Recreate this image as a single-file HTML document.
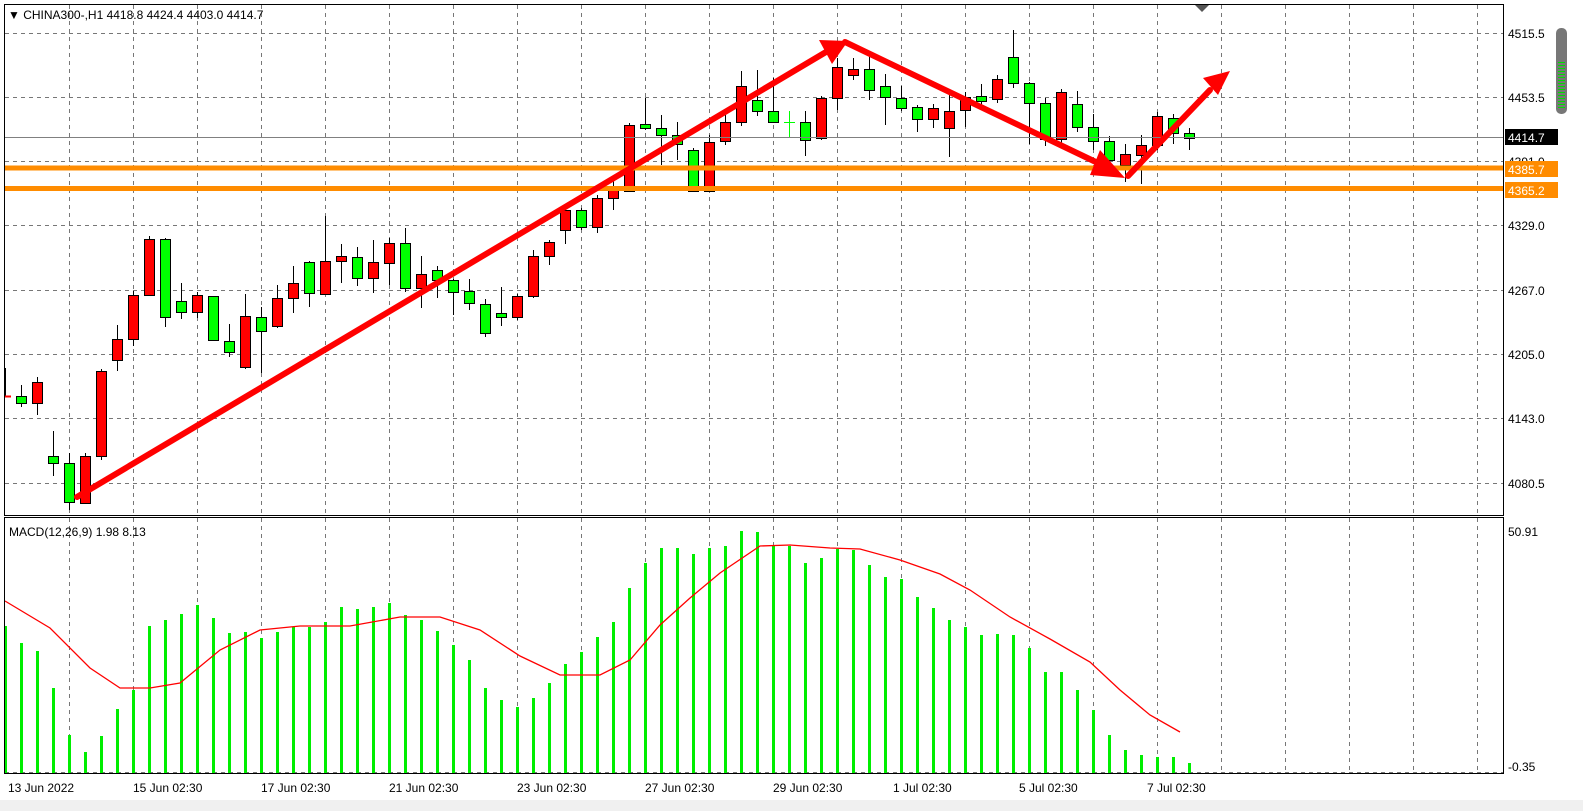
<!DOCTYPE html>
<html><head><meta charset="utf-8"><style>
html,body{margin:0;padding:0;background:#fff;width:1583px;height:811px;overflow:hidden;}
svg{display:block;font-family:"Liberation Sans",sans-serif;width:1583px;height:811px;}
</style></head><body>
<svg width="1583" height="811" viewBox="0 0 1583 811" xmlns="http://www.w3.org/2000/svg">
<rect width="1583" height="811" fill="#fff"/>
<g stroke="#777" stroke-width="1" stroke-dasharray="4,4" id="grid"></g>
<g id="candles"></g>
<g id="macd"></g>
<line x1="5" y1="137.5" x2="1503" y2="137.5" stroke="#808080" stroke-width="1"/>
<rect x="5" y="165.5" width="1498" height="5" fill="#ff8c00"/>
<rect x="5" y="186" width="1498" height="5" fill="#ff8c00"/>
<g stroke="#ff0000" stroke-width="6" stroke-linecap="round" fill="none">
<polyline points="77,497 826,52"/>
<polyline points="845,42 1100,164"/>
<polyline points="1128,176 1210,90"/>
</g>
<g fill="#ff0000">
<polygon points="848,41 819,40 832,64"/>
<polygon points="1125,178 1100,150 1090,175"/>
<polygon points="1230,71 1203,78 1218,95"/>
</g>
<g fill="none" stroke="#000" stroke-width="1">
<rect x="4.5" y="4.5" width="1499" height="511"/>
<rect x="4.5" y="517.5" width="1499" height="256"/>
</g>
<polygon points="1195,5 1209,5 1202,12" fill="#555"/>
<rect x="1556" y="28" width="11" height="86" rx="5" fill="#777"/>
<g stroke="#00dd00" stroke-width="1" id="sb"></g>
<g font-size="12" fill="#000">
<text x="8" y="19">▼ CHINA300-,H1  4418.8 4424.4 4403.0 4414.7</text>
<text x="9" y="536">MACD(12,26,9) 1.98 8.13</text>
<text x="1508" y="38">4515.5</text>
<text x="1508" y="102">4453.5</text>
<text x="1508" y="166">4391.0</text>
<text x="1508" y="230">4329.0</text>
<text x="1508" y="295">4267.0</text>
<text x="1508" y="359">4205.0</text>
<text x="1508" y="423">4143.0</text>
<text x="1508" y="488">4080.5</text>
<text x="1508" y="536">50.91</text>
<text x="1508" y="771">-0.35</text>
</g>
<rect x="1505" y="129" width="53" height="16" fill="#000"/>
<text x="1508" y="142" font-size="12" fill="#fff">4414.7</text>
<rect x="1505" y="161" width="53" height="16" fill="#ff8c00"/>
<text x="1508" y="174" font-size="12" fill="#fff">4385.7</text>
<rect x="1505" y="182" width="53" height="16" fill="#ff8c00"/>
<text x="1508" y="195" font-size="12" fill="#fff">4365.2</text>
<g font-size="12" fill="#000">
<text x="8" y="792">13 Jun 2022</text>
<text x="133" y="792">15 Jun 02:30</text>
<text x="261" y="792">17 Jun 02:30</text>
<text x="389" y="792">21 Jun 02:30</text>
<text x="517" y="792">23 Jun 02:30</text>
<text x="645" y="792">27 Jun 02:30</text>
<text x="773" y="792">29 Jun 02:30</text>
<text x="893" y="792">1 Jul 02:30</text>
<text x="1019" y="792">5 Jul 02:30</text>
<text x="1147" y="792">7 Jul 02:30</text>
</g>
<rect x="0" y="800" width="1583" height="11" fill="#f0f0f0"/>
<script>
(function(){
var NS="http://www.w3.org/2000/svg";
function el(p,t,a){var e=document.createElementNS(NS,t);for(var k in a)e.setAttribute(k,a[k]);p.appendChild(e);return e;}
var g=document.getElementById('grid');
for(var x=69;x<1503;x+=64){el(g,'line',{x1:x+.5,y1:5,x2:x+.5,y2:515});el(g,'line',{x1:x+.5,y1:518,x2:x+.5,y2:773});}
[33,97,161,225,290,354,418,483].forEach(function(y){el(g,'line',{x1:5,y1:y+.5,x2:1503,y2:y+.5});});
el(g,'line',{x1:5,y1:772.5,x2:1503,y2:772.5});
var R='#ff0000',G='#00ff00';
var c=[[21,396,403,385,407,G],[37,382,403,377,415,R],[53,456,463,431,476,G],[69,463,502,453,510,G],[85,456,503,453,503,R],[101,371,456,369,460,R],
[117,339,360,325,371,R],[133,295,339,291,346,R],[149,239,295,236,295,R],[165,239,317,238,327,G],[181,301,312,283,319,G],[197,295,312,292,318,R],[213,296,340,296,340,G],[229,341,352,324,357,G],[245,316,367,294,369,R],[261,317,331,307,373,G],[277,298,326,285,328,R],[293,283,298,266,313,R],[309,262,293,261,307,G],[325,261,294,216,295,R],[341,256,261,244,283,R],[357,257,278,247,286,G],[373,262,278,240,293,R],[389,243,263,238,285,R],[405,243,288,228,292,G],[421,274,288,256,308,R],[437,270,280,266,298,G],[453,280,292,279,315,G],[469,291,303,279,310,G],[485,304,333,299,337,G],[501,313,317,287,326,G],[517,296,317,294,320,R],[533,256,296,250,298,R],[549,242,256,240,265,R],
[565,210,230,205,244,R],[581,210,227,208,230,G],[597,198,227,195,233,R],[613,190,198,178,210,R],[629,125,191,123,191,R],[645,124,128,98,130,G],[661,128,135,115,165,G],[677,135,144,122,160,G],[693,150,191,148,192,G],[709,142,191,135,192,R],[725,122,141,115,145,R],[741,86,122,71,126,R],[757,100,111,70,116,G],[773,111,122,78,122,G],[805,122,140,111,156,G],[821,98,138,96,140,R],[837,67,98,58,110,R],[853,69,75,58,80,R],[869,69,90,54,100,G],[885,86,97,74,125,G],[901,98,108,86,111,G],[917,107,119,105,132,G],[933,108,119,104,128,R],[949,111,128,92,157,R],[965,97,110,92,127,R],[981,96,101,84,107,G],[997,79,99,75,103,R],[1013,57,83,30,88,G],[1029,83,103,82,144,G],[1045,103,139,98,146,G],[1061,92,139,89,147,R],[1077,104,127,91,132,G],[1093,127,141,114,150,G],[1109,141,160,136,170,G],[1125,154,165,144,182,R],[1141,145,155,135,184,R],[1157,116,145,112,150,R],[1173,118,133,114,144,G],[1189,133,138,128,150,G]];
var cg=document.getElementById('candles');
el(cg,'line',{x1:5.5,y1:368,x2:5.5,y2:397,stroke:'#000','stroke-width':1});
el(cg,'line',{x1:5,y1:396.5,x2:11,y2:396.5,stroke:R,'stroke-width':2});
c.forEach(function(d){
 el(cg,'line',{x1:d[0]+.5,y1:d[3],x2:d[0]+.5,y2:d[4],stroke:'#000','stroke-width':1});
 el(cg,'rect',{x:d[0]-4.5,y:d[1]+.5,width:10,height:Math.max(1,d[2]-d[1]),fill:d[5],stroke:'#000','stroke-width':1});
});
el(cg,'line',{x1:789.5,y1:111,x2:789.5,y2:138,stroke:G,'stroke-width':1});
el(cg,'line',{x1:784,y1:122.5,x2:795,y2:122.5,stroke:G,'stroke-width':1});
var h=[[5,626],[21,643],[37,651],[53,688],[69,735],[85,752],[101,736],[117,709],[133,690],[149,626],[165,620],[181,614],[197,605],[213,618],[229,633],[245,632],[261,638],[277,632],[293,627],[309,627],[325,622],[341,607],[357,609],[373,607],[389,603],[405,615],[421,620],[437,631],[453,645],[469,660],[485,688],[501,700],[517,707],[533,698],[549,683],[565,664],[581,652],[597,637],[613,622],[629,588],[645,563],[661,548],[677,548],[693,554],[709,548],[725,546],[741,531],[757,532],[773,546],[789,546],[805,563],[821,558],[837,549],[853,550],[869,565],[885,577],[901,579],[917,597],[933,608],[949,620],[965,627],[981,635],[997,634],[1013,635],[1029,648],[1045,672],[1061,672],[1077,690],[1093,710],[1109,735],[1125,750],[1141,755],[1157,757],[1173,757],[1189,763]];
var mg=document.getElementById('macd');
h.forEach(function(d){el(mg,'rect',{x:d[0]-1,y:d[1],width:3,height:773-d[1],fill:'#00ee00'});});
var s="5,601 50,628 90,668 120,688 150,688 180,683 220,650 260,630 300,626 350,626 400,617 440,617 480,630 520,656 560,675 600,675 630,660 660,625 690,598 720,573 760,546 790,545 830,548 860,549 900,560 940,574 970,590 1010,617 1050,639 1090,662 1120,690 1150,715 1180,732";
el(mg,'polyline',{points:s,fill:'none',stroke:'#ff0000','stroke-width':1.3});
var sb=document.getElementById('sb');
for(var y=62;y<110;y+=3)el(sb,'line',{x1:1558,y1:y+.5,x2:1565,y2:y+.5});
})();
</script>
</svg>
</body></html>
